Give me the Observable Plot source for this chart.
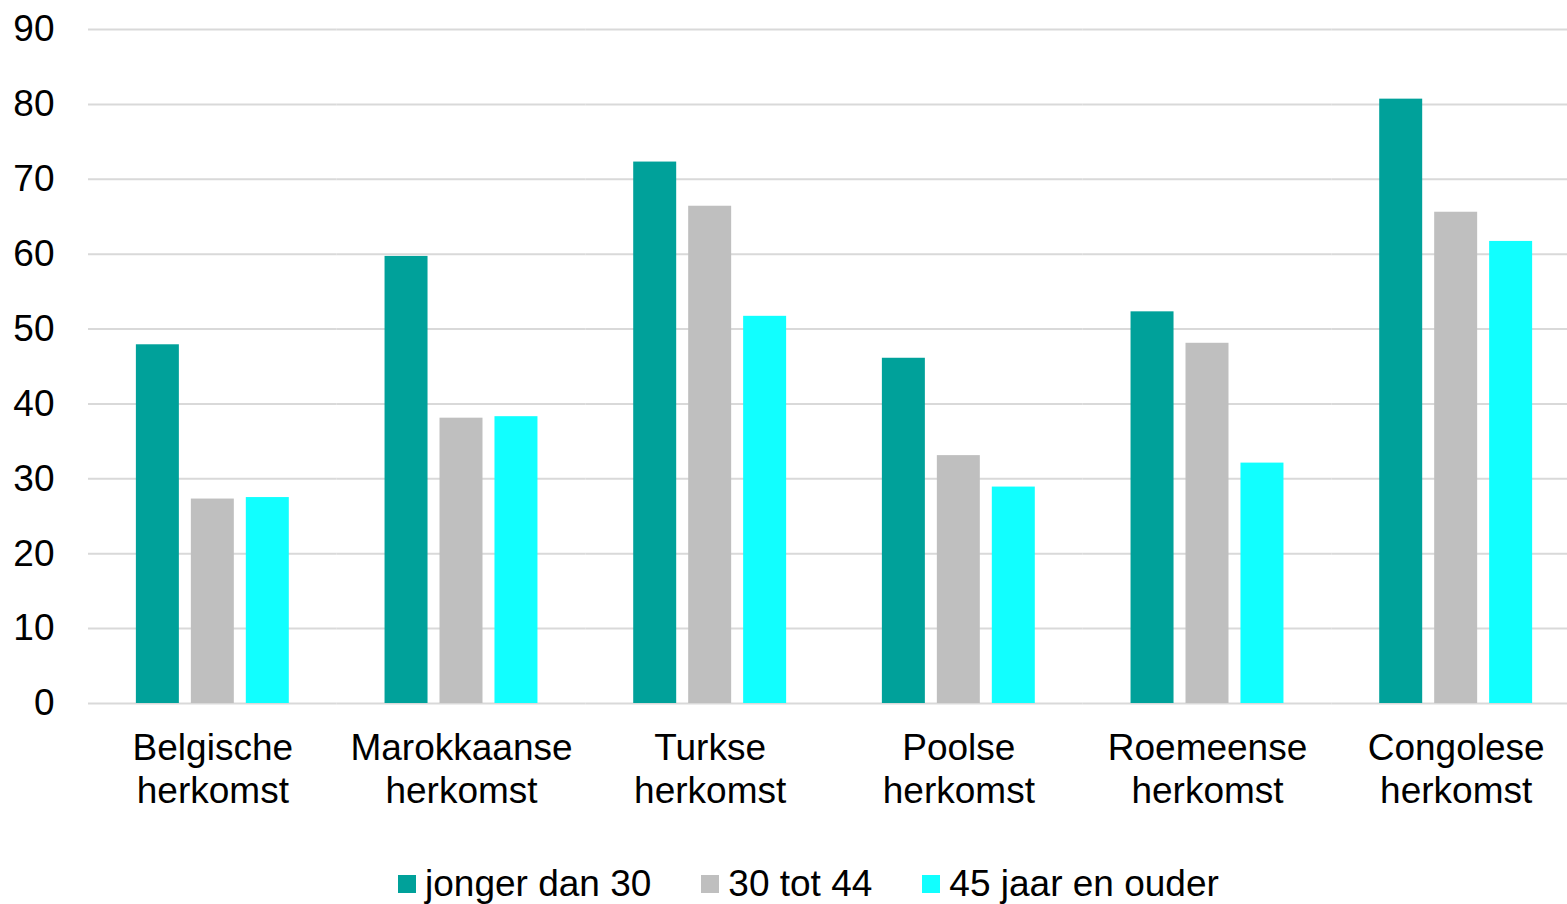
<!DOCTYPE html>
<html><head><meta charset="utf-8">
<script src="https://cdn.jsdelivr.net/npm/d3@7"></script>
<script src="https://cdn.jsdelivr.net/npm/@observablehq/plot@0.6"></script>
<style>
body{margin:0;background:#fff;font-family:"Liberation Sans",Arial,sans-serif;overflow:hidden;}
#legend{display:flex;align-items:center;height:40px;padding-left:398px;font-size:37px;color:#000;line-height:40px;}
.item{display:flex;align-items:center;margin-right:50px;}
.sw{width:18px;height:18px;margin-right:9px;}
</style></head><body>
<div id="chart"></div><div id="legend"></div>
<script>
const categories = ["Belgische herkomst","Marokkaanse herkomst","Turkse herkomst","Poolse herkomst","Roemeense herkomst","Congolese herkomst"];
const ages = ["jonger dan 30","30 tot 44","45 jaar en ouder"];
const young = [47.9, 59.7, 72.3, 46.1, 52.3, 80.7];
const middle = [27.3, 38.1, 66.4, 33.1, 48.1, 65.6];
const older = [27.5, 38.3, 51.7, 28.9, 32.1, 61.7];
const colors = ["#00a19a","#bfbfbf","#11ffff"];
const yTicks = [0,10,20,30,40,50,60,70,80,90];

const series = [young, middle, older];
const rows = [];
categories.forEach((c, i) => ages.forEach((a, j) => rows.push({group: c, age: a, value: series[j][i]})));

const chart = Plot.plot({
  width: 1567,
  height: 864,
  marginTop: 29,
  marginLeft: 88,
  marginRight: -13,
  marginBottom: 161,
  style: {fontFamily: "Liberation Sans, Arial, sans-serif", fontSize: "37px", color: "#000", background: "#fff", overflow: "hidden"},
  fx: {domain: categories, padding: 0, round: false, label: null, axis: null},
  x: {domain: ages, axis: null, round: false, paddingInner: 0.218, paddingOuter: 0.871},
  y: {domain: [0, 90], ticks: yTicks, tickSize: 0, tickPadding: 34, label: null},
  color: {domain: ages, range: colors},
  marks: [
    Plot.ruleY(yTicks, {stroke: "#d9d9d9", strokeWidth: 2}),
    Plot.barY(rows, {fx: "group", x: "age", y: "value", fill: "age"}),
    Plot.axisFx({anchor: "bottom", tickSize: 0, tickPadding: 26, lineHeight: 1.16, label: null, tickFormat: d => d.replace(" ", "\n")})
  ]
});
document.getElementById("chart").appendChild(chart);

const legend = document.getElementById("legend");
ages.forEach((a, j) => {
  const it = document.createElement("div"); it.className = "item";
  const sw = document.createElement("div"); sw.className = "sw"; sw.style.background = colors[j];
  const t = document.createElement("span"); t.textContent = a;
  it.appendChild(sw); it.appendChild(t); legend.appendChild(it);
});
</script>
</body></html>
